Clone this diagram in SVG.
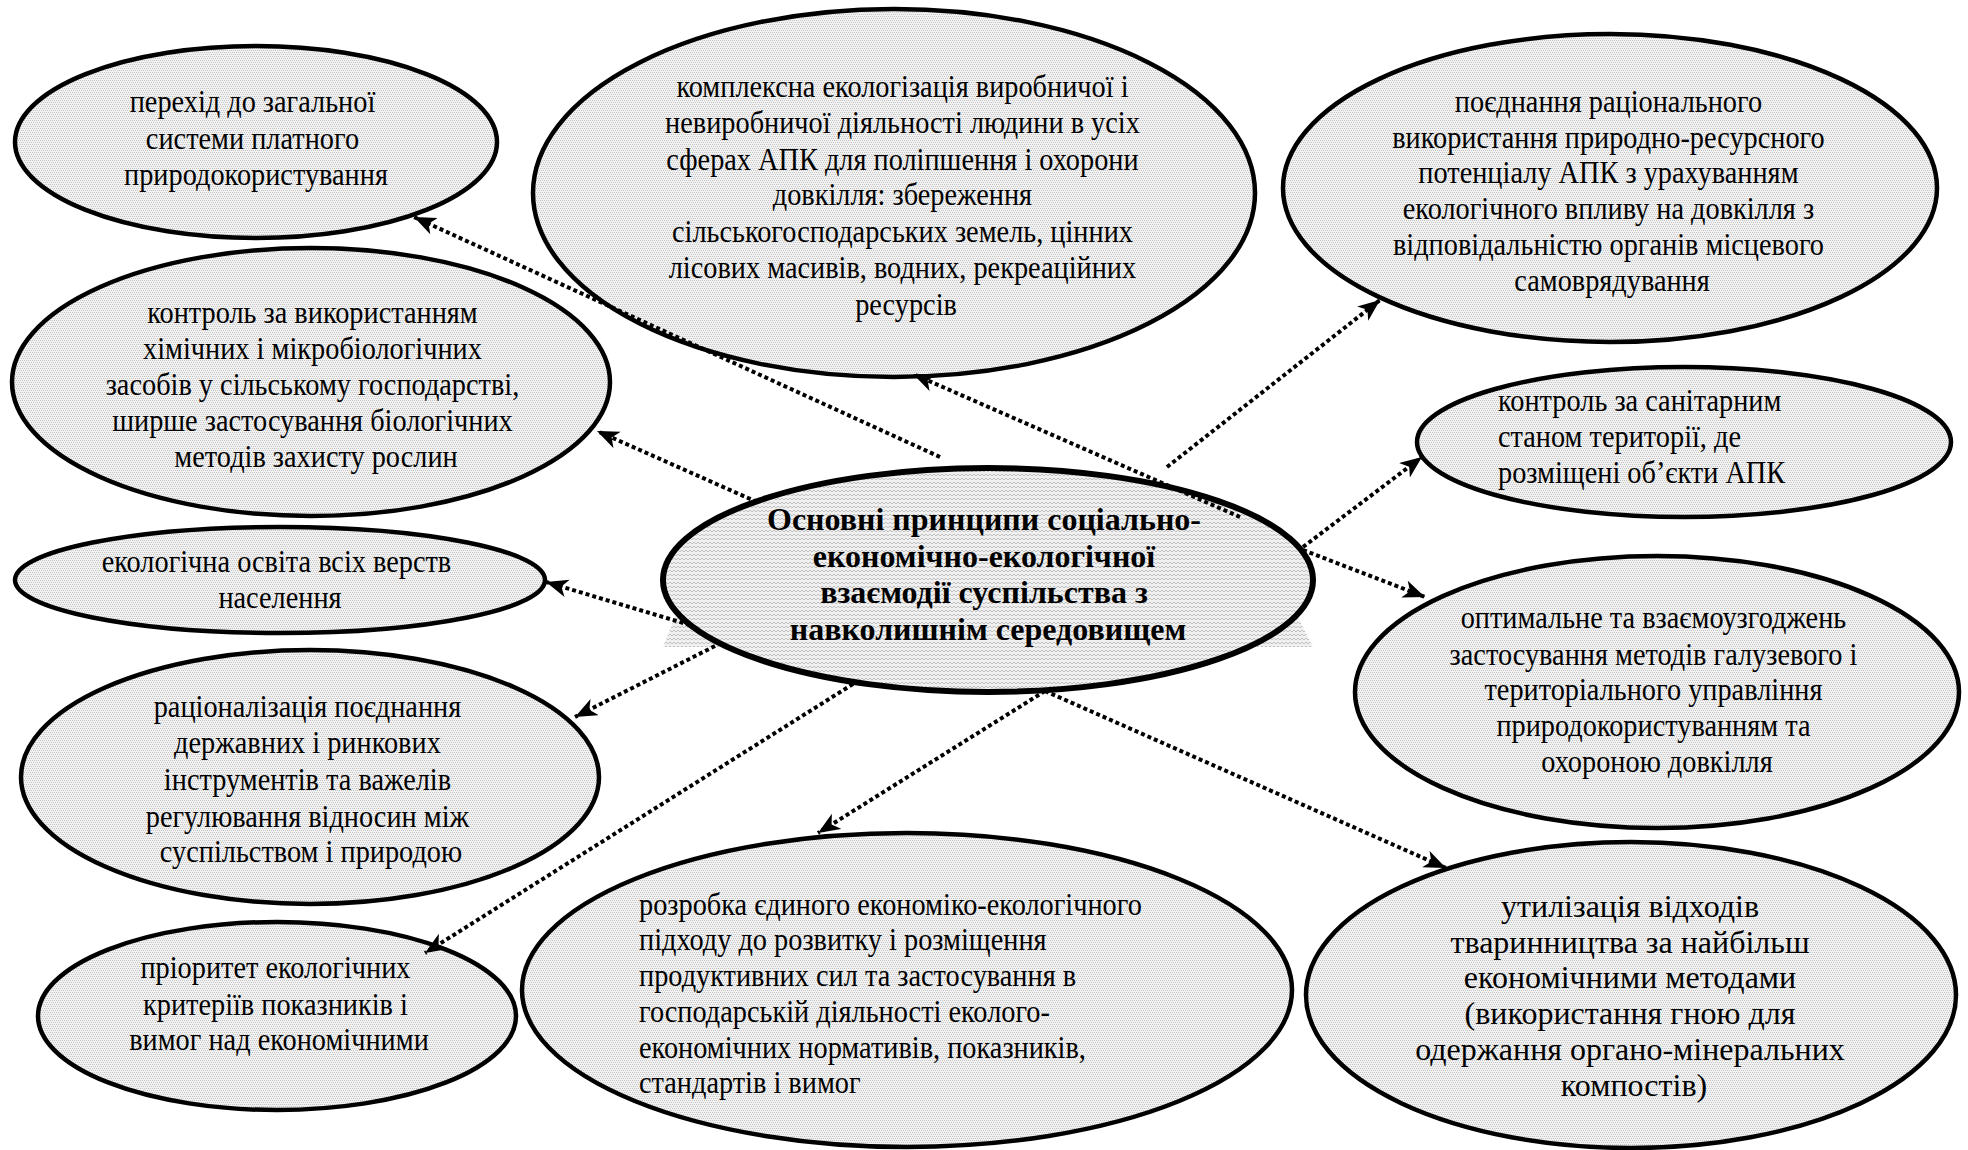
<svg xmlns="http://www.w3.org/2000/svg" width="1968" height="1150" viewBox="0 0 1968 1150">
<style>
.n{fill:url(#dots);stroke:#000;stroke-width:4.5}
.t{font-family:"Liberation Serif","Times New Roman",serif;font-size:32px;fill:#000}
.b{font-weight:bold}
.c{fill:none;stroke:#000;stroke-width:4;stroke-dasharray:4 3;marker-end:url(#ah)}
</style>
<defs>
<pattern id="dots" width="4" height="4" patternUnits="userSpaceOnUse">
<rect width="4" height="4" fill="#f2f2f2"/>
<rect x="0" y="0" width="1" height="1" fill="#c4c4c4"/>
<rect x="2" y="0" width="1" height="1" fill="#c4c4c4"/>
<rect x="1" y="2" width="1" height="1" fill="#c4c4c4"/>
<rect x="3" y="2" width="1" height="1" fill="#c4c4c4"/>
</pattern>
<pattern id="zz" width="8" height="8" patternUnits="userSpaceOnUse">
<rect width="8" height="8" fill="#f0f0f0"/>
<path d="M0 4 L2 2 L4 4 L6 2 L8 4 M0 8 L2 6 L4 8 L6 6 L8 8" fill="none" stroke="#c0c0c0" stroke-width="1"/>
</pattern>
<marker id="ah" markerWidth="24" markerHeight="20" refX="22" refY="9" orient="auto" markerUnits="userSpaceOnUse">
<path d="M0,0 L22,9 L0,18 L6,9 z" fill="#000"/>
</marker>
</defs>
<rect width="1968" height="1150" fill="#fff"/>

<g id="node-perekhid">
<ellipse class="n" cx="256" cy="142" rx="241" ry="96"/>
<text class="t" text-anchor="middle" transform="translate(256 0) scale(0.885 1)">
<tspan x="0" y="112">перехід до загальної</tspan>
<tspan x="0" y="149">системи платного</tspan>
<tspan x="0" y="185">природокористування</tspan>
</text>
</g>

<g id="node-kompleksna">
<ellipse class="n" cx="894" cy="193" rx="361" ry="184"/>
<text class="t" text-anchor="middle" transform="translate(906 0) scale(0.885 1)">
<tspan x="0" y="97">комплексна екологізація виробничої і</tspan>
<tspan x="0" y="133">невиробничої діяльності людини в усіх</tspan>
<tspan x="0" y="170">сферах АПК для поліпшення і охорони</tspan>
<tspan x="0" y="205">довкілля: збереження</tspan>
<tspan x="0" y="242">сільськогосподарських  земель, цінних</tspan>
<tspan x="0" y="278">лісових масивів, водних, рекреаційних</tspan>
<tspan x="0" y="315">ресурсів</tspan>
</text>
</g>

<g id="node-poiednannia">
<ellipse class="n" cx="1610" cy="188" rx="327" ry="154"/>
<text class="t" text-anchor="middle" transform="translate(1612 0) scale(0.885 1)">
<tspan x="0" y="112">поєднання раціонального</tspan>
<tspan x="0" y="148">використання природно-ресурсного</tspan>
<tspan x="0" y="183">потенціалу АПК з урахуванням</tspan>
<tspan x="0" y="219">екологічного впливу на довкілля з</tspan>
<tspan x="0" y="255">відповідальністю органів місцевого</tspan>
<tspan x="0" y="291">самоврядування</tspan>
</text>
</g>

<g id="node-kontrol-khim">
<ellipse class="n" cx="311" cy="382" rx="299" ry="134"/>
<text class="t" text-anchor="middle" transform="translate(316 0) scale(0.885 1)">
<tspan x="0" y="323">контроль за використанням</tspan>
<tspan x="0" y="359">хімічних і мікробіологічних</tspan>
<tspan x="0" y="395">засобів у сільському господарстві,</tspan>
<tspan x="0" y="431">ширше застосування біологічних</tspan>
<tspan x="0" y="467">методів захисту рослин</tspan>
</text>
</g>

<g id="node-kontrol-sanit">
<ellipse class="n" cx="1684" cy="442" rx="267" ry="75"/>
<text class="t" transform="translate(1498 0) scale(0.885 1)">
<tspan x="0" y="411">контроль за санітарним</tspan>
<tspan x="0" y="447">станом території, де</tspan>
<tspan x="0" y="483">розміщені об’єкти АПК</tspan>
</text>
</g>

<g id="node-osvita">
<ellipse class="n" cx="280" cy="580" rx="265" ry="53"/>
<text class="t" text-anchor="middle" transform="translate(280 0) scale(0.885 1)">
<tspan x="0" y="572">екологічна освіта всіх верств</tspan>
<tspan x="0" y="608">населення</tspan>
</text>
</g>

<g id="node-racionalizacia">
<ellipse class="n" cx="310" cy="777" rx="289" ry="127"/>
<text class="t" text-anchor="middle" transform="translate(311 0) scale(0.885 1)">
<tspan x="0" y="717">раціоналізація поєднання</tspan>
<tspan x="0" y="753">державних і ринкових</tspan>
<tspan x="0" y="790">інструментів та важелів</tspan>
<tspan x="0" y="827">регулювання відносин між</tspan>
<tspan x="0" y="862">суспільством і природою</tspan>
</text>
</g>

<g id="node-optymalne">
<ellipse class="n" cx="1657" cy="692" rx="302" ry="136"/>
<text class="t" text-anchor="middle" transform="translate(1657 0) scale(0.885 1)">
<tspan x="0" y="628">оптимальне та взаємоузгоджень</tspan>
<tspan x="0" y="665">застосування методів галузевого і</tspan>
<tspan x="0" y="700">територіального управління</tspan>
<tspan x="0" y="736">природокористуванням та</tspan>
<tspan x="0" y="772">охороною довкілля</tspan>
</text>
</g>

<g id="node-priorytet">
<ellipse class="n" cx="277" cy="1016" rx="239" ry="94"/>
<text class="t" text-anchor="middle" transform="translate(279 0) scale(0.885 1)">
<tspan x="0" y="978">пріоритет екологічних</tspan>
<tspan x="0" y="1015">критеріїв показників і</tspan>
<tspan x="0" y="1050">вимог над економічними</tspan>
</text>
</g>

<g id="node-rozrobka">
<ellipse class="n" cx="907" cy="990" rx="385" ry="157"/>
<text class="t" transform="translate(639 0) scale(0.885 1)">
<tspan x="0" y="915">розробка єдиного економіко-екологічного</tspan>
<tspan x="0" y="950">підходу до розвитку і розміщення</tspan>
<tspan x="0" y="986">продуктивних сил та застосування в</tspan>
<tspan x="0" y="1022">господарській діяльності еколого-</tspan>
<tspan x="0" y="1058">економічних нормативів, показників,</tspan>
<tspan x="0" y="1093">стандартів і вимог</tspan>
</text>
</g>

<g id="node-utylizacia">
<ellipse class="n" cx="1631" cy="995" rx="325" ry="153"/>
<text class="t" text-anchor="middle">
<tspan x="1634" y="917">утилізація відходів</tspan>
<tspan x="1634" y="953">тваринництва за найбільш</tspan>
<tspan x="1634" y="988">економічними методами</tspan>
<tspan x="1634" y="1024">(використання гною для</tspan>
<tspan x="1634" y="1060">одержання органо-мінеральних</tspan>
<tspan x="1634" y="1096">компостів)</tspan>
</text>
</g>

<g id="node-center">
<polygon points="689,582 1280,582 1313,647 663,647" fill="url(#zz)"/>
<ellipse cx="988" cy="580" rx="325" ry="112" fill="url(#zz)" stroke="#000" stroke-width="6"/>
<text class="t b" text-anchor="middle">
<tspan x="988" y="530">Основні принципи соціально-</tspan>
<tspan x="988" y="567">економічно-екологічної</tspan>
<tspan x="988" y="603">взаємодії суспільства з</tspan>
<tspan x="988" y="640">навколишнім середовищем</tspan>
</text>
</g>

<g id="connectors">
<path class="c" d="M940 457 L414 217"/>
<path class="c" d="M757 502 L597 431"/>
<path class="c" d="M690 625 L546 582"/>
<path class="c" d="M715 646 L575 717"/>
<path class="c" d="M853 684 L425 953"/>
<path class="c" d="M1045 691 L818 833"/>
<path class="c" d="M1045 691 L1446 868"/>
<path class="c" d="M1240 517 L913 374"/>
<path class="c" d="M1167 467 L1380 300"/>
<path class="c" d="M1303 547 L1422 457"/>
<path class="c" d="M1303 550 L1425 597"/>
</g>
</svg>
